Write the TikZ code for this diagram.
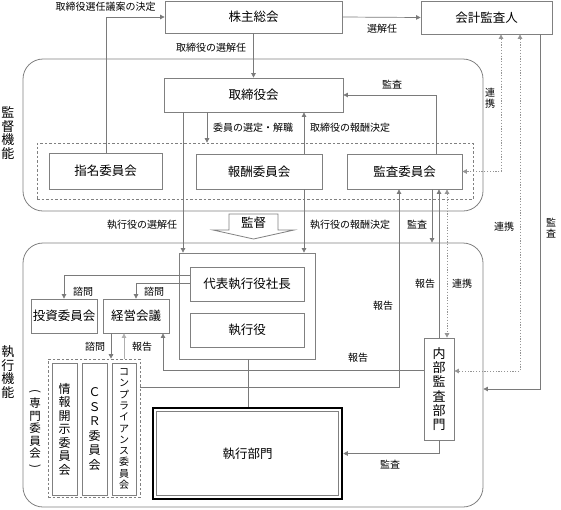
\documentclass[tikz,border=0pt]{standalone}
\usepackage{fontspec}
\usepackage{graphicx}
\setmainfont{Noto Sans CJK JP}
\usetikzlibrary{arrows.meta}
\definecolor{lc}{HTML}{7A7A7A}
\definecolor{bc}{HTML}{808080}
\tikzset{
  box/.style={draw=bc, line width=0.8pt, inner sep=0pt, font=\fontsize{12.5}{14}\selectfont},
  vbox/.style={draw=bc, line width=0.8pt, inner sep=0pt},
  frame/.style={draw=bc, line width=0.8pt, rounded corners=20pt, inner sep=0pt},
  dframe/.style={draw=bc, line width=0.7pt, dashed, dash pattern=on 2.5pt off 2pt, inner sep=0pt},
  lbl/.style={font=\fontsize{10}{12}\selectfont, inner sep=1pt},
  conn/.style={draw=lc, line width=0.7pt},
  arr/.style={conn, -{Triangle[length=4.5pt,width=4.5pt]}},
  dotl/.style={draw=lc!80, line width=0.8pt, dash pattern=on 1.2pt off 1.6pt},
}
\begin{document}
\begin{tikzpicture}[x=1pt,y=-1pt]
\useasboundingbox (0,0) rectangle (561,509);
% frames
\node[frame, minimum width=460pt, minimum height=152pt] (sup) at (253,135) {};
\node[frame, minimum width=460pt, minimum height=264pt] (exe) at (253,375) {};
\node[dframe, minimum width=436pt, minimum height=56pt] (comm) at (255,171) {};
\node[vbox, minimum width=136pt, minimum height=106pt] (grp) at (247,306) {};
\node[dframe, minimum width=92pt, minimum height=138pt] (sen) at (94,428) {};
% side labels
\node[font=\fontsize{13}{13.5}\selectfont, align=center, inner sep=0pt] (lsup) at (8,133) {監\\督\\機\\能};
\node[font=\fontsize{13}{13.5}\selectfont, align=center, inner sep=0pt] (lexe) at (8,372) {執\\行\\機\\能};
% boxes
\node[box, minimum width=177pt, minimum height=32pt] (kabu) at (253.5,17) {株主総会};
\node[box, minimum width=131pt, minimum height=33pt] (kaikei) at (486.5,17.5) {会計監査人};
\node[box, minimum width=179pt, minimum height=34pt] (tori) at (253.5,95) {取締役会};
\node[box, minimum width=113pt, minimum height=36pt] (shimei) at (105.5,171) {指名委員会};
\node[box, minimum width=126pt, minimum height=35pt] (hoshu) at (259,171.5) {報酬委員会};
\node[box, minimum width=115pt, minimum height=35pt] (kansa) at (404.5,171.5) {監査委員会};
\node[box, minimum width=114pt, minimum height=34pt] (daihyo) at (247,284) {代表執行役社長};
\node[box, minimum width=114pt, minimum height=34pt] (shikko) at (247,330) {執行役};
\node[box, minimum width=66pt, minimum height=34pt] (toushi) at (64,316) {投資委員会};
\node[box, minimum width=66pt, minimum height=34pt] (keiei) at (136,316) {経営会議};
\node[vbox, minimum width=25pt, minimum height=132pt, font=\fontsize{12}{13.5}\selectfont, align=center] (joho) at (64.5,429) {情\\報\\開\\示\\委\\員\\会};
\node[vbox, minimum width=25pt, minimum height=132pt, font=\fontsize{12}{14.5}\selectfont, align=center] (csr) at (94.5,429) {Ｃ\\Ｓ\\Ｒ\\委\\員\\会};
\node[vbox, minimum width=24pt, minimum height=132pt, font=\fontsize{10}{11.3}\selectfont, align=center] (comp) at (124,429) {コ\\ン\\プ\\ラ\\イ\\ア\\ン\\ス\\委\\員\\会};
\node[font=\fontsize{11.5}{12.5}\selectfont, align=center, inner sep=0pt] (lsen) at (35,430) {\rotatebox[origin=c]{-90}{(}\\専\\門\\委\\員\\会\\\rotatebox[origin=c]{-90}{)}};
\node[vbox, minimum width=30pt, minimum height=102pt, font=\fontsize{13}{14.3}\selectfont, align=center] (naibu) at (439,389) {内\\部\\監\\査\\部\\門};
\node[draw=black, line width=2.6pt, minimum width=189pt, minimum height=91pt, inner sep=0pt] (bumonout) at (247.5,453.5) {};
\node[draw=bc, line width=0.6pt, minimum width=182pt, minimum height=84pt, inner sep=0pt, font=\fontsize{12.5}{14}\selectfont] (bumon) at (247.5,453.5) {執行部門};
% supervision block arrow
\draw[draw=bc, fill=white, line width=0.8pt] (229,214) -- (278,214) -- (278,230) -- (294,230) -- (253.5,239) -- (213,230) -- (229,230) -- cycle;
\node[font=\fontsize{12.5}{14}\selectfont] (kantoku) at (253.5,223) {監督};
% connectors
\draw[arr] (shimei.north -| 106,0) |- (kabu.west);
\node[lbl] (l1) at (105.5,7) {取締役選任議案の決定};
\draw[arr] (kabu.south) -- (tori.north);
\node[lbl] (l2) at (211,48) {取締役の選解任};
\draw[arr] (kabu.east) -- (kaikei.west);
\node[lbl] (l3) at (382,29) {選解任};
\draw[arr] (tori.south -| 207,0) -- (comm.north -| 207,0);
\node[lbl] (l4) at (253,128) {委員の選定・解職};
\draw[arr] (hoshu.north -| 304,0) -- (tori.south -| 304,0);
\node[lbl] (l5) at (350,128) {取締役の報酬決定};
\draw[arr] (kansa.north -| 436,0) |- (tori.east);
\node[lbl] (l6) at (392,85) {監査};
\draw[arr] (tori.south -| 183,0) -- (grp.north -| 183,0);
\node[lbl] (l7) at (142,225) {執行役の選解任};
\draw[arr] (hoshu.south -| 304,0) -- (grp.north -| 304,0);
\node[lbl] (l8) at (350,225) {執行役の報酬決定};
\draw[arr] (kansa.south -| 432,0) -- (exe.north -| 432,0);
\node[lbl] (l9) at (417,225) {監査};
\draw[arr] (naibu.north) -- (kansa.south -| naibu.north);
\node[lbl] (l10) at (425,284) {報告};
\draw[dotl, {Triangle[length=4.5pt,width=4.5pt]}-{Triangle[length=4.5pt,width=4.5pt]}] (kansa.south -| 447,0) -- (naibu.north -| 447,0);
\node[lbl] (l11) at (462,284) {連携};
\draw[arr] (sen.east |- 0,387) -| (kansa.south -| 399,0);
\node[lbl] (l12) at (383,306) {報告};
\draw[arr] (naibu.west |- 0,370) -| (keiei.south -| 163,0);
\node[lbl] (l13) at (358,358) {報告};
\draw[arr] (daihyo.west |- 0,275) -| (toushi.north);
\node[lbl] (l14) at (83,292) {諮問};
\draw[arr] (daihyo.west |- 0,283) -| (keiei.north);
\node[lbl] (l15) at (154,292) {諮問};
\draw[arr] (keiei.south -| 111,0) -- (sen.north -| 111,0);
\node[lbl] (l16) at (95,347) {諮問};
\draw[arr, draw=lc!60] (sen.north -| 124,0) -- (keiei.south -| 124,0);
\node[lbl] (l17) at (142,347) {報告};
\draw[conn] (grp.south -| 248,0) -- (bumonout.north -| 248,0);
\draw[arr] (naibu.south) |- (bumonout.east);
\node[lbl] (l18) at (390,465) {監査};
\draw[dotl, {Triangle[length=4.5pt,width=4.5pt]}-{Triangle[length=4.5pt,width=4.5pt]}] (kaikei.south -| 501,0) |- (kansa.east);
\node[lbl, align=center, font=\fontsize{10}{11.5}\selectfont] (l19) at (490,98) {連\\携};
\draw[dotl, {Triangle[length=4.5pt,width=4.5pt]}-{Triangle[length=4.5pt,width=4.5pt]}] (kaikei.south -| 520,0) |- (naibu.east |- 0,371);
\node[lbl] (l20) at (504,227) {連携};
\draw[arr] (kaikei.south -| 540,0) |- (exe.east |- 0,389);
\node[lbl, align=center, font=\fontsize{10}{11.5}\selectfont] (l21) at (551,228) {監\\査};
\end{tikzpicture}
\end{document}
